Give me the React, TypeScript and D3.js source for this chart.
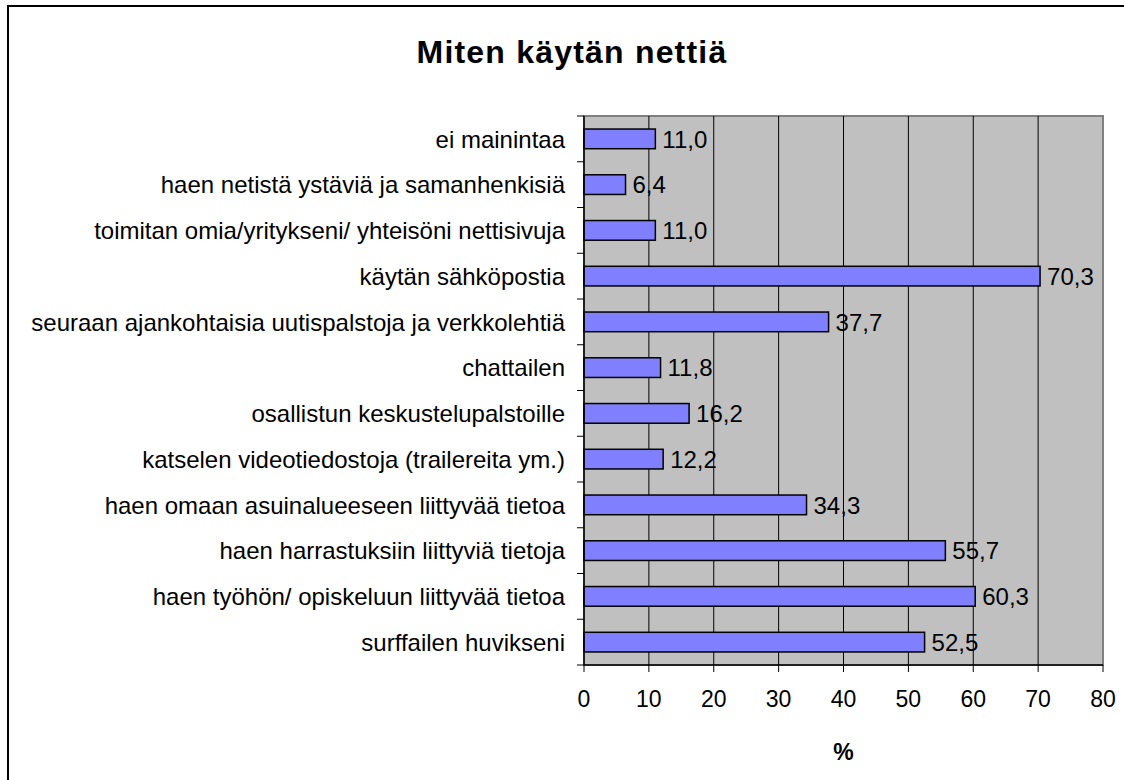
import React from "react";
import * as d3 from "d3";

const categories: string[] = [
  "ei mainintaa",
  "haen netistä ystäviä ja samanhenkisiä",
  "toimitan omia/yritykseni/ yhteisöni nettisivuja",
  "käytän sähköpostia",
  "seuraan ajankohtaisia uutispalstoja ja verkkolehtiä",
  "chattailen",
  "osallistun keskustelupalstoille",
  "katselen videotiedostoja (trailereita ym.)",
  "haen omaan asuinalueeseen liittyvää tietoa",
  "haen harrastuksiin liittyviä tietoja",
  "haen työhön/ opiskeluun liittyvää tietoa",
  "surffailen huvikseni",
];
const values: number[] = [11.0, 6.4, 11.0, 70.3, 37.7, 11.8, 16.2, 12.2, 34.3, 55.7, 60.3, 52.5];
const xTicks: number[] = [0, 10, 20, 30, 40, 50, 60, 70, 80];
const title = "Miten käytän nettiä";
const xAxisTitle = "%";

const W = 1124;
const H = 780;
const plot = { left: 584, right: 1103, top: 116, bottom: 665 };
const FONT = "'Liberation Sans', Arial, sans-serif";

export default function App() {
  const x = d3.scaleLinear().domain([0, 80]).range([plot.left, plot.right]);
  const y = d3
    .scaleBand<string>()
    .domain(categories)
    .range([plot.top, plot.bottom])
    .paddingInner(0.57)
    .paddingOuter(0.285);
  const band = (plot.bottom - plot.top) / categories.length;
  const fmt = (v: number) => d3.format(".1f")(v).replace(".", ",");

  return (
    <svg
      width={W}
      height={H}
      style={{ position: "absolute", left: 0, top: 0, background: "#fff", overflow: "hidden" }}
      fontFamily={FONT}
    >
      <rect x={8} y={6} width={W + 40} height={H + 40} fill="#fff" stroke="#000" strokeWidth={2} />
      <text x={572} y={63} textAnchor="middle" fontSize={32} fontWeight="bold" letterSpacing={1.2}>
        {title}
      </text>
      <rect
        x={plot.left}
        y={plot.top}
        width={plot.right - plot.left}
        height={plot.bottom - plot.top}
        fill="#c0c0c0"
        stroke="#808080"
        strokeWidth={2}
      />
      {xTicks.slice(1, -1).map((t) => (
        <line key={"g" + t} x1={x(t)} x2={x(t)} y1={plot.top} y2={plot.bottom} stroke="#000" strokeWidth={1} />
      ))}
      {categories.map((c, i) => (
        <g key={c}>
          <rect
            x={x(0)}
            y={y(c)}
            width={x(values[i]) - x(0)}
            height={y.bandwidth()}
            fill="#8080ff"
            stroke="#000"
            strokeWidth={1.5}
          />
          <text
            x={x(values[i]) + 7}
            y={(y(c) as number) + y.bandwidth() / 2}
            dy="0.36em"
            fontSize={24}
          >
            {fmt(values[i])}
          </text>
          <text
            x={565}
            y={(y(c) as number) + y.bandwidth() / 2}
            dy="0.36em"
            textAnchor="end"
            fontSize={24}
          >
            {c}
          </text>
        </g>
      ))}
      {d3.range(categories.length + 1).map((i) => (
        <line
          key={"ct" + i}
          x1={plot.left - 7}
          x2={plot.left}
          y1={plot.top + i * band}
          y2={plot.top + i * band}
          stroke="#000"
          strokeWidth={1}
        />
      ))}
      <line x1={plot.left} x2={plot.left} y1={plot.top} y2={plot.bottom} stroke="#000" strokeWidth={1.5} />
      <line x1={plot.left} x2={plot.right} y1={plot.bottom} y2={plot.bottom} stroke="#000" strokeWidth={1.5} />
      {xTicks.map((t) => (
        <g key={"xt" + t}>
          <line x1={x(t)} x2={x(t)} y1={plot.bottom} y2={plot.bottom + 7} stroke="#000" strokeWidth={1} />
          <text x={x(t)} y={707} textAnchor="middle" fontSize={23}>
            {t}
          </text>
        </g>
      ))}
      <text x={(plot.left + plot.right) / 2} y={760} textAnchor="middle" fontSize={23} fontWeight="bold">
        {xAxisTitle}
      </text>
    </svg>
  );
}
